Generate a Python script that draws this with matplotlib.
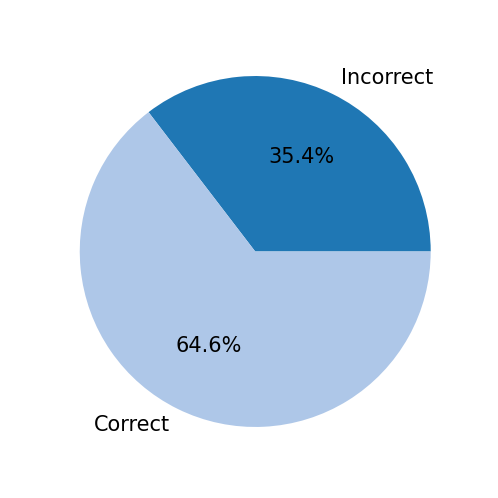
import matplotlib.pyplot as plt

labels = ['Incorrect', 'Correct']
values = [35.4, 64.6]
colors = ['#1f77b4', '#aec7e8']

fig = plt.figure(figsize=(4.98, 4.98), dpi=100)
plt.pie(values, labels=labels, colors=colors, autopct='%1.1f%%',
        radius=1.144, textprops={'fontsize': 15})
plt.savefig('out.png', dpi=100)
